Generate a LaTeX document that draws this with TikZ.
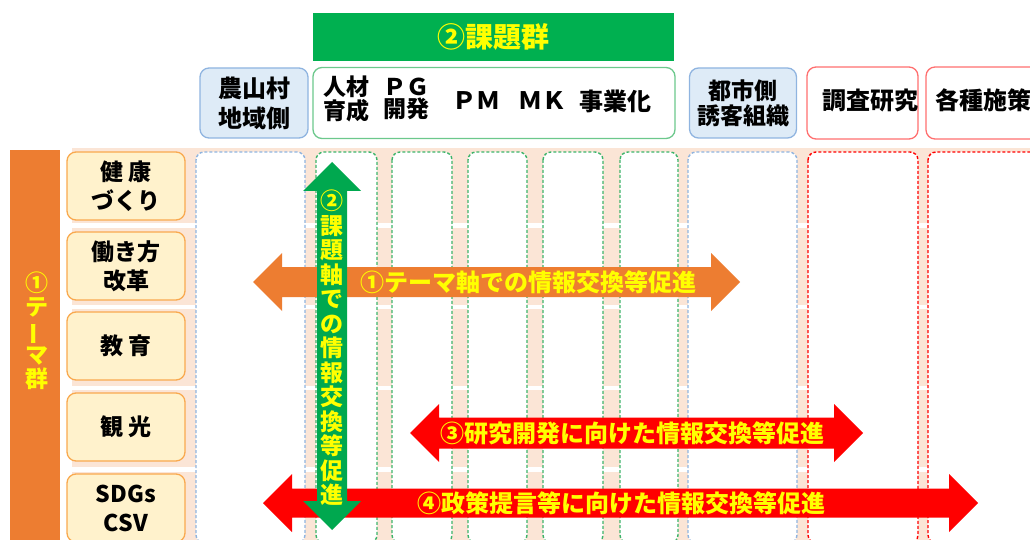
\documentclass[tikz,border=0pt]{standalone}
\usepackage{fontspec}
\setmainfont{Noto Sans CJK JP}
\usepackage{tikz}
\usetikzlibrary{positioning}

\definecolor{kgreen}{HTML}{00B050}
\definecolor{kgarrow}{HTML}{00A84F}
\definecolor{korange}{HTML}{ED7D31}
\definecolor{kband}{HTML}{FBE5D6}
\definecolor{kcream}{HTML}{FFF2CC}
\definecolor{kcreamline}{HTML}{F9A94F}
\definecolor{kbluefill}{HTML}{DEEBF7}
\definecolor{kblueline}{HTML}{8FB4E0}
\definecolor{kgreenline}{HTML}{6CC88C}
\definecolor{kgreendash}{HTML}{3DB46A}
\definecolor{kredline}{HTML}{FF6F6F}
\definecolor{kred}{HTML}{FF0000}
\definecolor{kyellow}{HTML}{FFFF00}

% left tip, right tip, middle y, half shaft
\newcommand{\hdarrow}[5]{%
	\fill[#1] (#2,#4) -- ({#2+29},{#4-29}) -- ({#2+29},{#4-#5}) -- ({#3-29},{#4-#5})
		-- ({#3-29},{#4-29}) -- (#3,#4) -- ({#3-29},{#4+29}) -- ({#3-29},{#4+#5})
		-- ({#2+29},{#4+#5}) -- ({#2+29},{#4+29}) -- cycle;}
\newcommand{\tatebar}{\raisebox{0pt}[0.8em][0.1em]{\rotatebox[origin=c]{90}{ー}}}

\begin{document}
\begin{tikzpicture}[x=1pt,y=-1pt,
	hdr/.style={font=\fontsize{24}{27}\selectfont\bfseries, align=center, inner sep=0pt},
	bluehdr/.style={draw=kblueline, fill=kbluefill, line width=1.3pt, rounded corners=9pt},
	greenhdr/.style={draw=kgreenline, fill=white, line width=1.3pt, rounded corners=9pt},
	redhdr/.style={draw=kredline, fill=white, line width=1.3pt, rounded corners=9pt},
	themebox/.style={draw=kcreamline, fill=kcream, line width=1.3pt, rounded corners=9pt,
		minimum width=118, minimum height=68, align=center,
		font=\fontsize{23}{29}\selectfont\bfseries},
	dashcol/.style={draw=#1, fill=white, line width=1.4pt, dash pattern=on 3pt off 2pt, rounded corners=8pt},
	arrtxt/.style={text=kyellow, font=\fontsize{24}{27}\selectfont\bfseries, inner sep=0pt},
	tatetxt/.style={text=kyellow, align=center, inner sep=0pt, font=\fontsize{23}{24.5}\selectfont\bfseries}
	]
	\useasboundingbox (0,0) rectangle (1030,540);

	% row bands
	\foreach \t/\b in {148/223, 228/305, 309/386, 390/467, 472/545}
		\fill[kband] (72,\t) rectangle (1030,\b);

	% columns
	\draw[dashcol=kblueline] (196,152) rectangle (305,543);
	\foreach \a/\b in {316/377, 392/452, 468/527, 543/603, 620/678}
		\draw[dashcol=kgreendash] (\a,152) rectangle (\b,543);
	\draw[dashcol=kblueline] (688,152) rectangle (797,543);
	\draw[dashcol=kred] (808,152) rectangle (918,543);
	\draw[dashcol=kred] (928,152) rectangle (1045,543);

	% headers
	\node[fill=kgreen, minimum width=361, minimum height=48, inner sep=0pt, text=kyellow,
		font=\fontsize{28}{30}\selectfont\bfseries] (issues) at (493.5,37) {②課題群};
	\node[bluehdr, hdr, minimum width=108, minimum height=70, font=\fontsize{24}{30}\selectfont\bfseries] (farm) at (254,103) {農山村\\地域側};
	\node[greenhdr, minimum width=362, minimum height=71] (tasks) at (494,103) {};
	\node[hdr, font=\fontsize{23}{22}\selectfont\bfseries] (hr) at (346,99) {人材\\育成};
	\node[hdr, font=\fontsize{23}{22}\selectfont\bfseries] (pg) at (406,99) {ＰＧ\\開発};
	\node[hdr] (pm) at (476,101) {ＰＭ};
	\node[hdr] (mk) at (542,101) {ＭＫ};
	\node[hdr] (biz) at (615,101) {事業化};
	\node[bluehdr, hdr, minimum width=107, minimum height=70, font=\fontsize{23}{25}\selectfont\bfseries] (city) at (743,103) {都市側\\誘客組織};
	\node[redhdr, minimum width=111, minimum height=72] (survey) at (862.5,103) {};
	\node[hdr] (surveylbl) at (870,100) {調査研究};
	\node[redhdr, minimum width=114, minimum height=72] (policy) at (983,103) {};
	\node[hdr] (policylbl) at (983,100) {各種施策};

	% theme group
	\node[fill=korange, minimum width=50, minimum height=392, inner sep=0pt] (themes) at (35,346) {};
	\node[tatetxt, font=\fontsize{23}{24}\selectfont\bfseries] (themelbl) at (37,331) {①\\テ\\\tatebar\\マ\\群};
	\node[themebox] (health) at (126,186) {健 康\\づくり};
	\node[themebox] (work) at (126,266) {働き方\\改革};
	\node[themebox] (edu) at (126,346) {教 育};
	\node[themebox] (tour) at (126,427) {観 光};
	\node[themebox] (sdgs) at (126,508) {SDGs\\CSV};

	% block arrows
	\hdarrow{korange}{253}{740}{282}{15}
	\hdarrow{kred}{410}{863}{433}{15.5}
	\hdarrow{kred}{263}{978}{503}{14.5}
	\fill[kgarrow] (332,162) -- (361,191) -- (347,191) -- (347,501) -- (361,501) -- (332,530)
		-- (303,501) -- (317,501) -- (317,191) -- (303,191) -- cycle;

	\node[arrtxt] (themeaxis) at (528,282) {①テーマ軸での情報交換等促進};
	\node[arrtxt] (research) at (632,433) {③研究開発に向けた情報交換等促進};
	\node[arrtxt] (proposal) at (621,503) {④政策提言等に向けた情報交換等促進};
	\node[tatetxt] (issueaxis) at (332,348) {②\\課\\題\\軸\\で\\の\\情\\報\\交\\換\\等\\促\\進};
\end{tikzpicture}
\end{document}
